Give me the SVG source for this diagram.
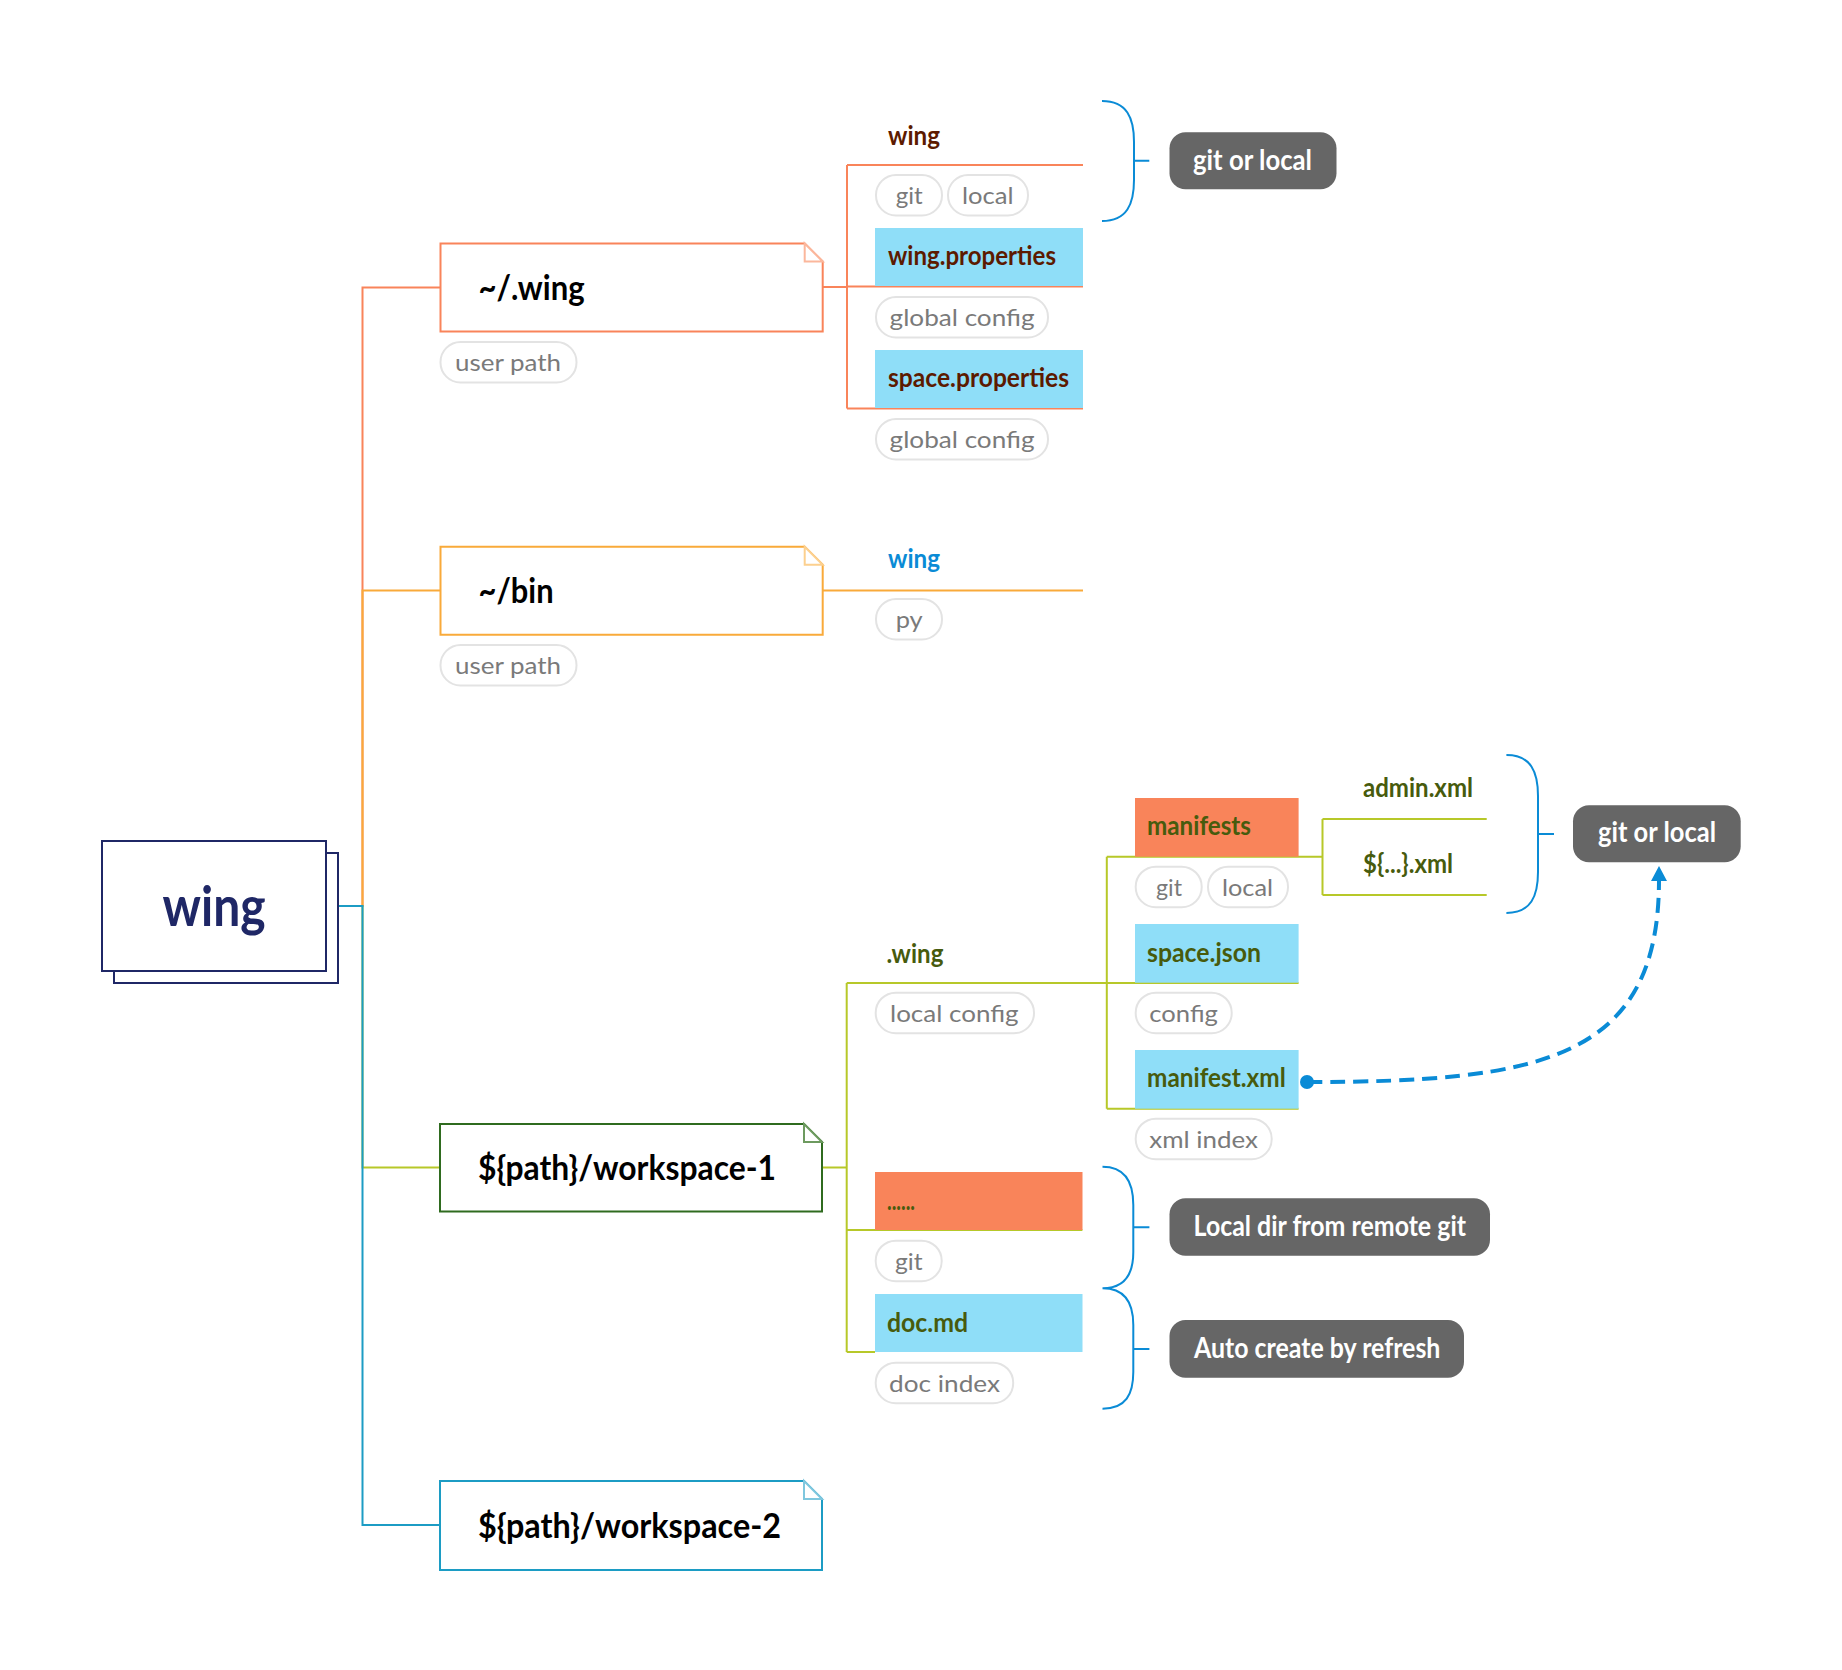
<svg xmlns="http://www.w3.org/2000/svg" width="1842" height="1670" viewBox="0 0 1842 1670">
<defs>
<style>
text{font-family:Lato,"Liberation Sans",sans-serif;}
.t{font-weight:bold;font-size:34px;fill:#000;}
.lb{font-weight:bold;font-size:26px;}
.br{fill:#5c1a00;}
.ol{fill:#475b0d;}
.bl{fill:#0a8bd6;}
.pill{fill:#fff;stroke:#e3e3e3;stroke-width:2;}
.pt{font-size:24px;fill:#7a7a7a;}
.sum{fill:#666;}
.st{font-weight:bold;font-size:28px;fill:#fff;}
.c{fill:none;stroke-width:2;}
.o{stroke:#f9845a;}
.y{stroke:#f9aa3a;}
.g{stroke:#b7c829;}
.tl{stroke:#1c9cc4;}
.brace{fill:none;stroke:#0a8bd6;stroke-width:2;}
.lblue{fill:#8fdef8;}
.lor{fill:#f9845a;}
</style>
<marker id="ah" markerWidth="16" markerHeight="16" refX="1" refY="8" orient="auto" markerUnits="userSpaceOnUse">
<path d="M0,0 L15,8 L0,16 Z" fill="#0a8bd6"/>
</marker>
</defs>
<rect width="1842" height="1670" fill="#fff"/>

<g id="connectors">
<path class="c o" d="M338,906 H362.5 V287.5 H440"/>
<path class="c y" d="M338,906 H362.5 V590.5 H440"/>
<path class="c g" d="M338,906 H362.5 V1167.5 H440"/>
<path class="c tl" d="M338,906 H362.5 V1525 H440"/>
<path class="c o" d="M822.7,287 H847 M847,165 V408.5 M847,165 H1083 M847,286.5 H1083 M847,408.5 H1083"/>
<path class="c y" d="M822.7,590.5 H1083"/>
<path class="c g" d="M822,1167.5 H846.7 M846.7,983 V1352 M846.7,983 H1298.6 M846.7,1230 H1082.4 M846.7,1352 H875"/>
<path class="c g" d="M1106.8,856.7 V1108.7 M1106.8,856.7 H1322.5 M1106.8,1108.7 H1298.6"/>
<path class="c g" d="M1322.5,819 V895 M1322.5,819 H1486.7 M1322.5,895 H1486.7"/>
<path class="brace" d="M1102,101 C1127,101 1134,118 1134,142 V180 C1134,204 1127,221 1102,221 M1134,160.7 H1149.3"/>
<path class="brace" d="M1506.4,755 C1531,755 1538,772 1538,796 V872 C1538,896 1531,913 1506.4,913 M1538,834 H1554"/>
<path class="brace" d="M1102.5,1166.7 C1126,1166.7 1133.3,1183 1133.3,1205 V1252 C1133.3,1276 1123,1288.3 1102.5,1288.3 C1123,1288.3 1133.3,1301 1133.3,1325 V1372 C1133.3,1394 1126,1408.7 1102.5,1408.7 M1133.3,1227.3 H1149.4 M1133.3,1349 H1149.4"/>
<path d="M1307,1082 C1540,1082 1659,1060 1659,880" fill="none" stroke="#0a8bd6" stroke-width="4" stroke-dasharray="15,8" marker-end="url(#ah)"/>
<circle cx="1307" cy="1082" r="7" fill="#0a8bd6"/>
</g>

<g id="root">
<rect x="114" y="853" width="224" height="130" fill="#fff" stroke="#1f2766" stroke-width="2"/>
<rect x="102" y="841" width="224" height="130" fill="#fff" stroke="#1f2766" stroke-width="2"/>
<text x="162.5" y="926" font-size="56" font-weight="bold" fill="#1f2766" textLength="103" lengthAdjust="spacingAndGlyphs">wing</text>
</g>

<g id="n-userwing">
<path d="M440.5,243.5 H804.7 L822.7,261.5 V331.5 H440.5 Z" fill="#fff" stroke="#f9845a" stroke-width="2"/>
<path d="M804.7,243.5 V261.5 H822.7 Z" fill="#fff" stroke="#fbb79c" stroke-width="2"/>
<text class="t" x="478.6" y="300" textLength="106" lengthAdjust="spacingAndGlyphs">~/.wing</text>
<rect class="pill" x="440.5" y="342" width="136" height="40.5" rx="20"/>
<text class="pt" x="455" y="371" textLength="106" lengthAdjust="spacingAndGlyphs">user path</text>
</g>

<g id="n-wing-top">
<text class="lb br" x="888" y="145" textLength="52" lengthAdjust="spacingAndGlyphs">wing</text>
<rect class="pill" x="876" y="175" width="66" height="40.5" rx="20"/>
<text class="pt" x="895.7" y="204" textLength="27" lengthAdjust="spacingAndGlyphs">git</text>
<rect class="pill" x="948" y="175" width="80" height="40.5" rx="20"/>
<text class="pt" x="962" y="204" textLength="51.6" lengthAdjust="spacingAndGlyphs">local</text>
</g>

<g id="n-wingprops">
<rect class="lblue" x="875" y="228" width="208" height="58"/>
<text class="lb br" x="888" y="265" textLength="168" lengthAdjust="spacingAndGlyphs">wing.properties</text>
<rect class="pill" x="876" y="297" width="172" height="40.5" rx="20"/>
<text class="pt" x="889.6" y="326" textLength="145" lengthAdjust="spacingAndGlyphs">global config</text>
</g>

<g id="n-spaceprops">
<rect class="lblue" x="875" y="350" width="208" height="58"/>
<text class="lb br" x="888" y="387" textLength="181" lengthAdjust="spacingAndGlyphs">space.properties</text>
<rect class="pill" x="876" y="419" width="172" height="40.5" rx="20"/>
<text class="pt" x="889.6" y="448" textLength="145" lengthAdjust="spacingAndGlyphs">global config</text>
</g>

<g id="s-gitlocal1">
<rect class="sum" x="1169.5" y="132.3" width="167" height="57" rx="16"/>
<text class="st" x="1193" y="170" textLength="119" lengthAdjust="spacingAndGlyphs">git or local</text>
</g>

<g id="n-bin">
<path d="M440.5,546.7 H804.7 L822.7,564.7 V634.8 H440.5 Z" fill="#fff" stroke="#f9aa3a" stroke-width="2"/>
<path d="M804.7,546.7 V564.7 H822.7 Z" fill="#fff" stroke="#fcd08f" stroke-width="2"/>
<text class="t" x="478.6" y="603" textLength="75" lengthAdjust="spacingAndGlyphs">~/bin</text>
<rect class="pill" x="440.5" y="645" width="136" height="40.5" rx="20"/>
<text class="pt" x="455" y="674" textLength="106" lengthAdjust="spacingAndGlyphs">user path</text>
</g>

<g id="n-wing-bin">
<text class="lb bl" x="888" y="567.6" textLength="52" lengthAdjust="spacingAndGlyphs">wing</text>
<rect class="pill" x="876" y="599" width="66" height="40.5" rx="20"/>
<text class="pt" x="895.7" y="628" textLength="27" lengthAdjust="spacingAndGlyphs">py</text>
</g>

<g id="n-ws1">
<path d="M440,1124 H804 L822,1142 V1211.5 H440 Z" fill="#fff" stroke="#2f6b1f" stroke-width="2"/>
<path d="M804,1124 V1142 H822 Z" fill="#fff" stroke="#6d9a5f" stroke-width="2"/>
<text class="t" x="478" y="1180" textLength="298" lengthAdjust="spacingAndGlyphs">${path}/workspace-1</text>
</g>

<g id="n-dotwing">
<text class="lb ol" x="886.4" y="963.3" textLength="57" lengthAdjust="spacingAndGlyphs">.wing</text>
<rect class="pill" x="875.7" y="992.7" width="158.3" height="40.5" rx="20"/>
<text class="pt" x="890" y="1021.7" textLength="128.6" lengthAdjust="spacingAndGlyphs">local config</text>
</g>

<g id="n-manifests">
<rect class="lor" x="1135" y="798" width="163.6" height="58.7"/>
<text class="lb ol" x="1147" y="835" textLength="104" lengthAdjust="spacingAndGlyphs">manifests</text>
<rect class="pill" x="1135.7" y="866.7" width="66" height="40.5" rx="20"/>
<text class="pt" x="1156" y="896.2" textLength="26" lengthAdjust="spacingAndGlyphs">git</text>
<rect class="pill" x="1208" y="866.7" width="80" height="40.5" rx="20"/>
<text class="pt" x="1222" y="896.2" textLength="51" lengthAdjust="spacingAndGlyphs">local</text>
</g>

<g id="n-adminxml">
<text class="lb ol" x="1363" y="797.3" textLength="110" lengthAdjust="spacingAndGlyphs">admin.xml</text>
</g>
<g id="n-varxml">
<text class="lb ol" x="1363" y="873.3" textLength="90" lengthAdjust="spacingAndGlyphs">${...}.xml</text>
</g>

<g id="s-gitlocal2">
<rect class="sum" x="1573" y="805.3" width="167.7" height="57" rx="16"/>
<text class="st" x="1598" y="842" textLength="118" lengthAdjust="spacingAndGlyphs">git or local</text>
</g>

<g id="n-spacejson">
<rect class="lblue" x="1135" y="924" width="163.6" height="58.7"/>
<text class="lb ol" x="1147" y="961.7" textLength="114" lengthAdjust="spacingAndGlyphs">space.json</text>
<rect class="pill" x="1135.7" y="992.7" width="96" height="40.5" rx="20"/>
<text class="pt" x="1149.3" y="1021.7" textLength="68.6" lengthAdjust="spacingAndGlyphs">config</text>
</g>

<g id="n-manifestxml">
<rect class="lblue" x="1135" y="1050" width="163.6" height="58.7"/>
<text class="lb ol" x="1147" y="1086.7" textLength="138.7" lengthAdjust="spacingAndGlyphs">manifest.xml</text>
<rect class="pill" x="1135.7" y="1118.7" width="136" height="40.5" rx="20"/>
<text class="pt" x="1149.3" y="1148.4" textLength="108.6" lengthAdjust="spacingAndGlyphs">xml index</text>
</g>

<g id="n-dots">
<rect class="lor" x="875" y="1172" width="207.5" height="58"/>
<text class="lb ol" x="887" y="1210" textLength="28" lengthAdjust="spacingAndGlyphs">......</text>
<rect class="pill" x="875.7" y="1240.7" width="66" height="40.5" rx="20"/>
<text class="pt" x="895" y="1269.5" textLength="27.6" lengthAdjust="spacingAndGlyphs">git</text>
</g>

<g id="n-docmd">
<rect class="lblue" x="875" y="1294" width="207.5" height="58"/>
<text class="lb ol" x="887" y="1331.7" textLength="81" lengthAdjust="spacingAndGlyphs">doc.md</text>
<rect class="pill" x="875.7" y="1362.7" width="137.5" height="40.5" rx="20"/>
<text class="pt" x="889" y="1391.5" textLength="111" lengthAdjust="spacingAndGlyphs">doc index</text>
</g>

<g id="s-localdir">
<rect class="sum" x="1169.5" y="1198.3" width="320.5" height="57.4" rx="16"/>
<text class="st" x="1193.6" y="1236" textLength="272.4" lengthAdjust="spacingAndGlyphs">Local dir from remote git</text>
</g>

<g id="s-autocreate">
<rect class="sum" x="1169.5" y="1320" width="294.5" height="57.7" rx="16"/>
<text class="st" x="1194" y="1358" textLength="246.4" lengthAdjust="spacingAndGlyphs">Auto create by refresh</text>
</g>

<g id="n-ws2">
<path d="M440,1481 H804 L822,1499 V1570 H440 Z" fill="#fff" stroke="#1c9cc4" stroke-width="2"/>
<path d="M804,1481 V1499 H822 Z" fill="#fff" stroke="#7fc7de" stroke-width="2"/>
<text class="t" x="478" y="1538" textLength="303" lengthAdjust="spacingAndGlyphs">${path}/workspace-2</text>
</g>
</svg>
